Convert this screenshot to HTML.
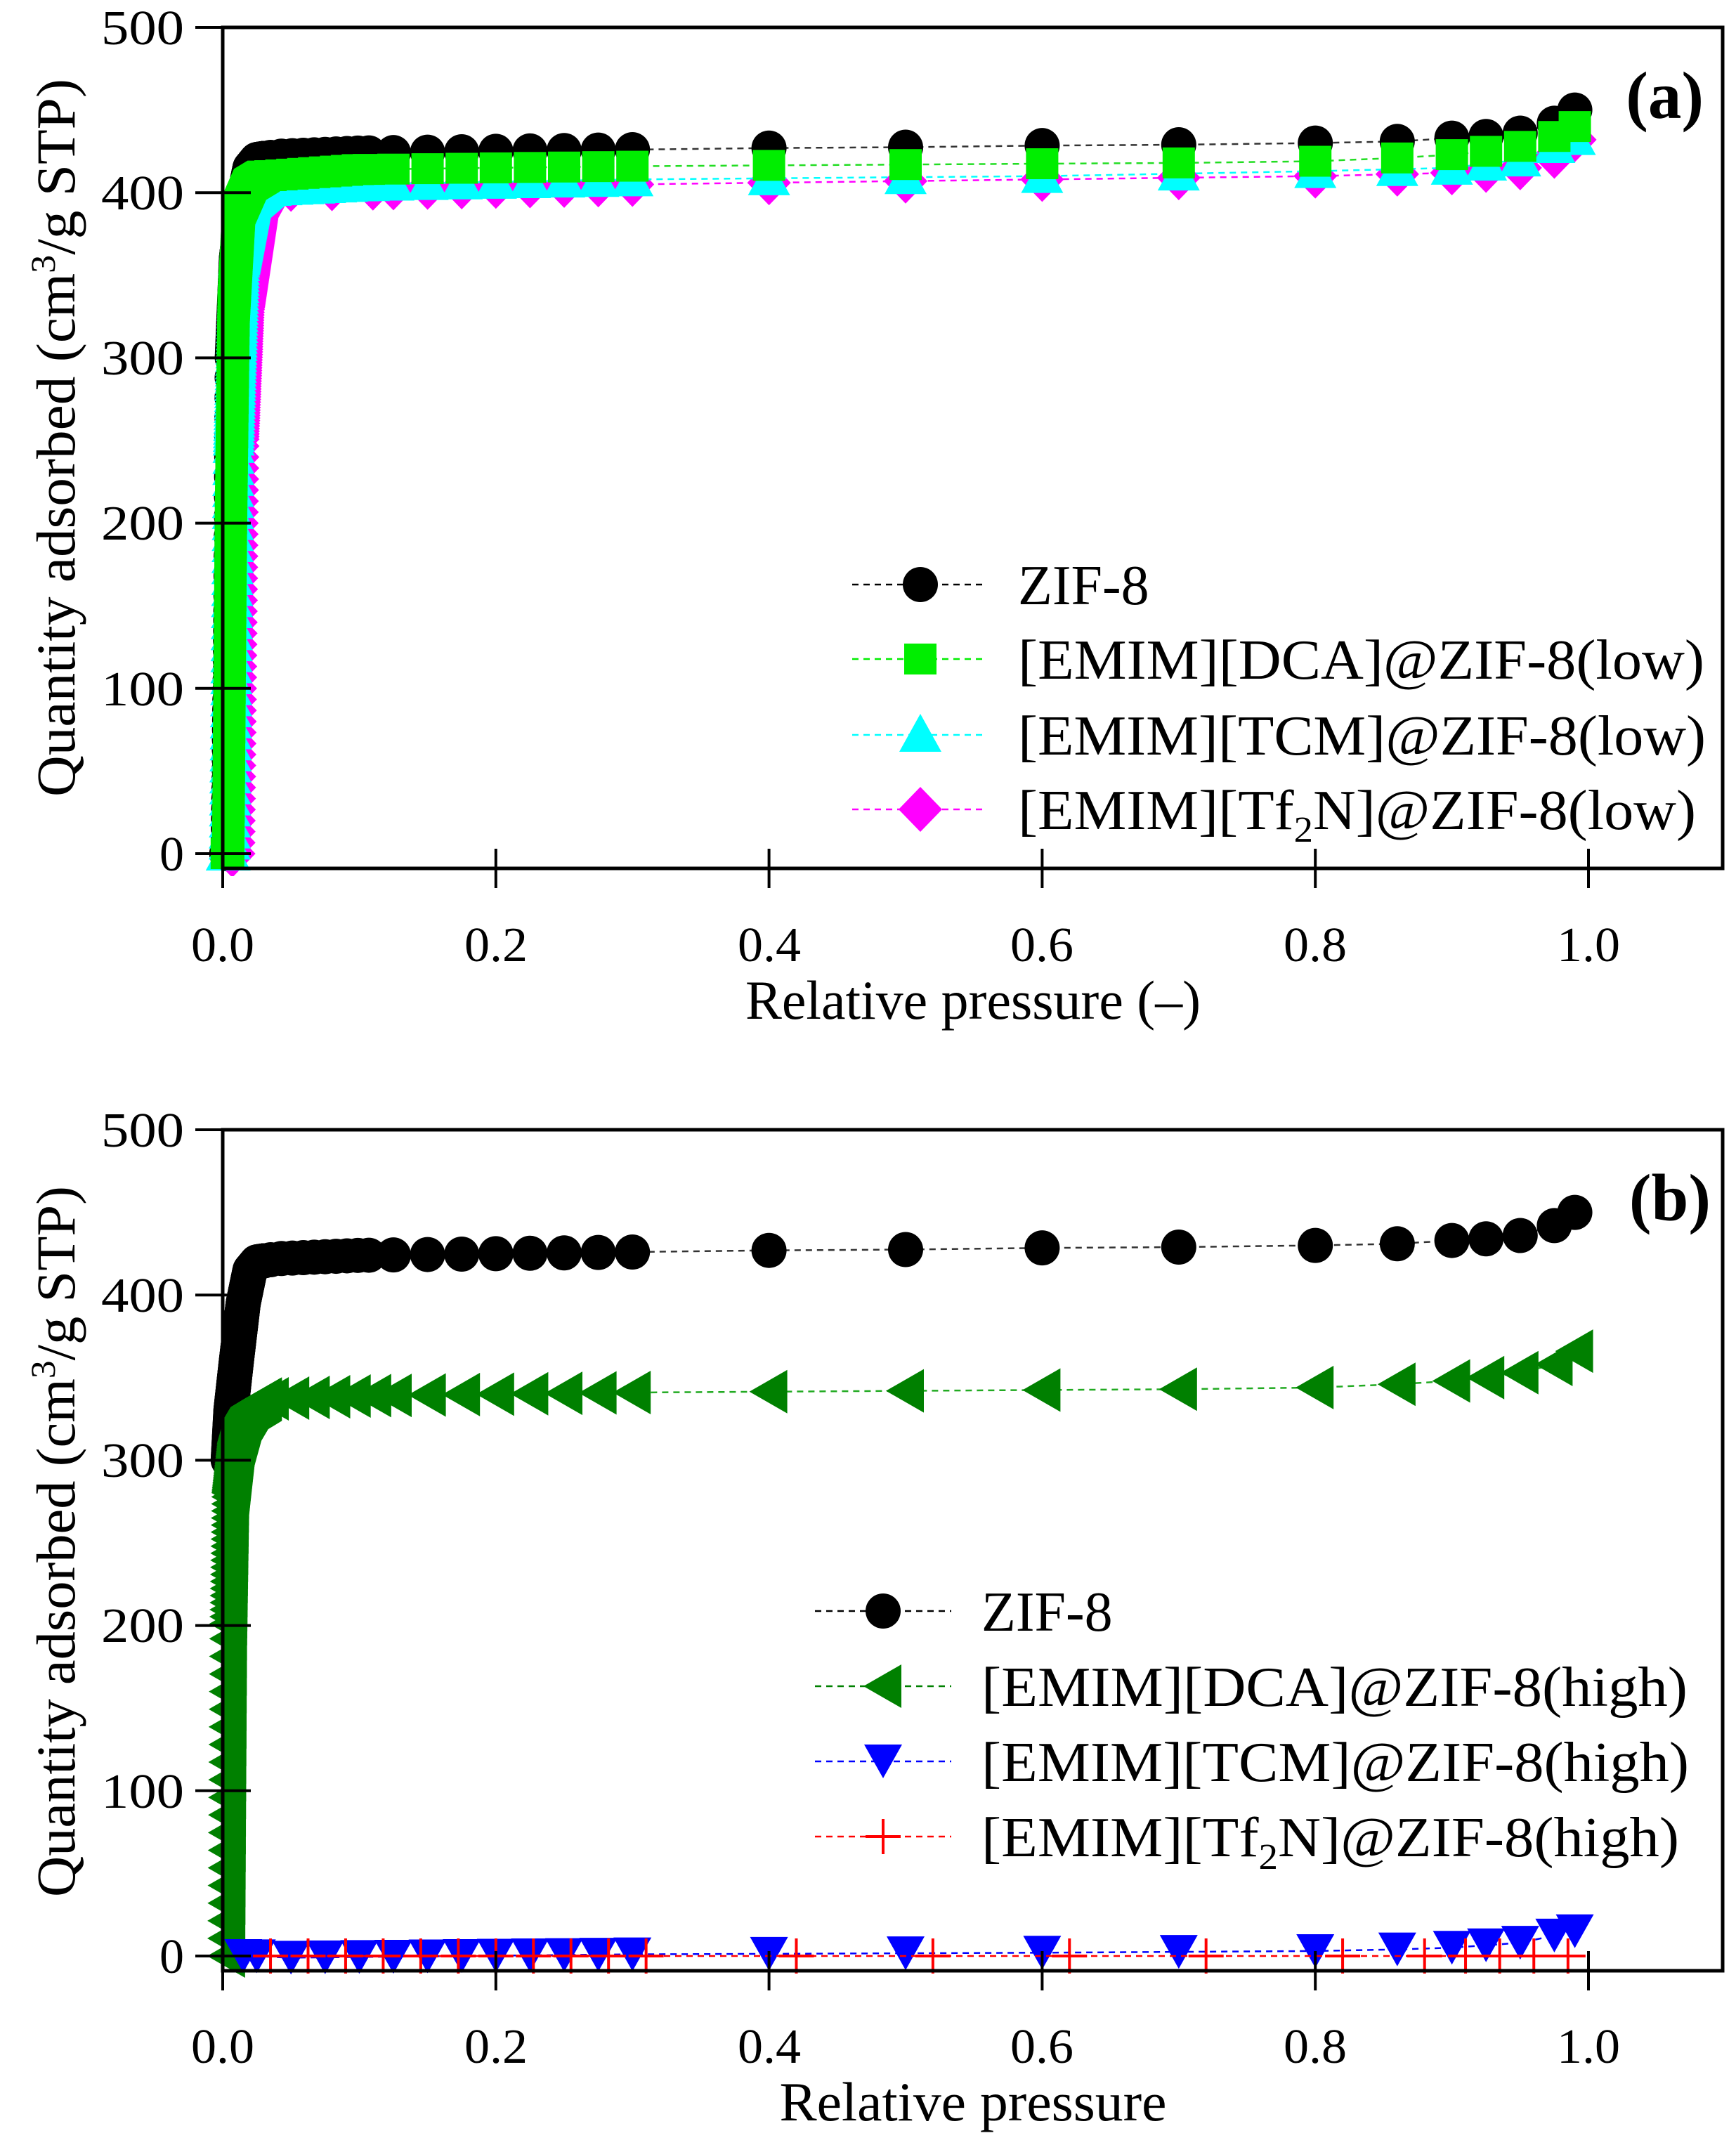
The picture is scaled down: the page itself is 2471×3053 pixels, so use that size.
<!DOCTYPE html>
<html><head><meta charset="utf-8">
<style>
html,body{margin:0;padding:0;background:#fff;}
svg{display:block;}
text{font-family:"Liberation Serif",serif;fill:#000;}
</style></head>
<body>
<svg id="s" xmlns="http://www.w3.org/2000/svg" width="2471" height="3053" viewBox="0 0 2471 3053">
<g id="plots"></g>
<rect x="317" y="39" width="2135" height="1197" fill="none" stroke="#000" stroke-width="5"/>
<rect x="317" y="1608" width="2135" height="1197" fill="none" stroke="#000" stroke-width="5"/>
<g id="ticks" stroke="#000" stroke-width="4"></g>

<g font-size="70" text-anchor="end" lengthAdjust="spacingAndGlyphs">
<text x="262" y="63" textLength="118" lengthAdjust="spacingAndGlyphs">500</text><text x="262" y="298" textLength="118" lengthAdjust="spacingAndGlyphs">400</text><text x="262" y="533" textLength="118" lengthAdjust="spacingAndGlyphs">300</text>
<text x="262" y="768" textLength="118" lengthAdjust="spacingAndGlyphs">200</text><text x="262" y="1004" textLength="118" lengthAdjust="spacingAndGlyphs">100</text><text x="262" y="1239">0</text>
</g>
<g font-size="70" text-anchor="middle">
<text x="317" y="1368" textLength="90" lengthAdjust="spacingAndGlyphs">0.0</text><text x="706" y="1368" textLength="90" lengthAdjust="spacingAndGlyphs">0.2</text><text x="1095" y="1368" textLength="90" lengthAdjust="spacingAndGlyphs">0.4</text>
<text x="1483" y="1368" textLength="90" lengthAdjust="spacingAndGlyphs">0.6</text><text x="1872" y="1368" textLength="90" lengthAdjust="spacingAndGlyphs">0.8</text><text x="2261" y="1368" textLength="90" lengthAdjust="spacingAndGlyphs">1.0</text>
</g>
<text x="1385" y="1450" font-size="78" text-anchor="middle" textLength="648" lengthAdjust="spacingAndGlyphs">Relative pressure (–)</text>
<text transform="translate(106,623) rotate(-90)" font-size="78" text-anchor="middle" textLength="1022" lengthAdjust="spacingAndGlyphs">Quantity adsorbed (cm<tspan dy="-28" font-size="50">3</tspan><tspan dy="28">/g STP)</tspan></text>
<text x="2425" y="168" font-size="95" font-weight="bold" text-anchor="end">(a)</text>

<g font-size="70" text-anchor="end">
<text x="262" y="1632" textLength="118" lengthAdjust="spacingAndGlyphs">500</text><text x="262" y="1867" textLength="118" lengthAdjust="spacingAndGlyphs">400</text><text x="262" y="2102" textLength="118" lengthAdjust="spacingAndGlyphs">300</text>
<text x="262" y="2337" textLength="118" lengthAdjust="spacingAndGlyphs">200</text><text x="262" y="2573" textLength="118" lengthAdjust="spacingAndGlyphs">100</text><text x="262" y="2808">0</text>
</g>
<g font-size="70" text-anchor="middle">
<text x="317" y="2936" textLength="90" lengthAdjust="spacingAndGlyphs">0.0</text><text x="706" y="2936" textLength="90" lengthAdjust="spacingAndGlyphs">0.2</text><text x="1095" y="2936" textLength="90" lengthAdjust="spacingAndGlyphs">0.4</text>
<text x="1483" y="2936" textLength="90" lengthAdjust="spacingAndGlyphs">0.6</text><text x="1872" y="2936" textLength="90" lengthAdjust="spacingAndGlyphs">0.8</text><text x="2261" y="2936" textLength="90" lengthAdjust="spacingAndGlyphs">1.0</text>
</g>
<text x="1385" y="3018" font-size="78" text-anchor="middle" textLength="551" lengthAdjust="spacingAndGlyphs">Relative pressure</text>
<text transform="translate(106,2194) rotate(-90)" font-size="78" text-anchor="middle" textLength="1012" lengthAdjust="spacingAndGlyphs">Quantity adsorbed (cm<tspan dy="-28" font-size="50">3</tspan><tspan dy="28">/g STP)</tspan></text>
<text x="2435" y="1737" font-size="95" font-weight="bold" text-anchor="end">(b)</text>

<g font-size="80">
<text x="1449" y="860">ZIF-8</text>
<text x="1449" y="966" textLength="977" lengthAdjust="spacingAndGlyphs">[EMIM][DCA]@ZIF-8(low)</text>
<text x="1449" y="1074" textLength="979" lengthAdjust="spacingAndGlyphs">[EMIM][TCM]@ZIF-8(low)</text>
<text x="1449" y="1180" textLength="965" lengthAdjust="spacingAndGlyphs">[EMIM][Tf<tspan dy="18" font-size="52">2</tspan><tspan dy="-18">N]@ZIF-8(low)</tspan></text>
</g>
<g font-size="80">
<text x="1397" y="2321">ZIF-8</text>
<text x="1397" y="2428" textLength="1005" lengthAdjust="spacingAndGlyphs">[EMIM][DCA]@ZIF-8(high)</text>
<text x="1397" y="2535" textLength="1007" lengthAdjust="spacingAndGlyphs">[EMIM][TCM]@ZIF-8(high)</text>
<text x="1397" y="2642" textLength="993" lengthAdjust="spacingAndGlyphs">[EMIM][Tf<tspan dy="18" font-size="52">2</tspan><tspan dy="-18">N]@ZIF-8(high)</tspan></text>
</g>
</svg>
<script>
(function(){
var NS="http://www.w3.org/2000/svg";
var plots=document.getElementById("plots"), ticks=document.getElementById("ticks");
function el(t,a,p){var e=document.createElementNS(NS,t);for(var k in a)e.setAttribute(k,a[k]);(p||plots).appendChild(e);return e;}
[39,1608].forEach(function(top){
  var y0=top+1176;
  for(var i=0;i<=5;i++){var y=y0-i*235.2;el("line",{x1:278,y1:y,x2:357,y2:y},ticks);}
  var b=top+1197;
  for(var j=0;j<=5;j++){var x=317+j*388.8;el("line",{x1:x,y1:b+28,x2:x,y2:b-28},ticks);}
});
function X(p){return 317+p*1944;}
function interp(t,x){if(x<=t[0][0])return t[0][1];for(var i=1;i<t.length;i++){if(x<=t[i][0]){var a=t[i-1],b=t[i];return a[1]+(b[1]-a[1])*(x-a[0])/(b[0]-a[0]);}}return t[t.length-1][1];}
var P=[0.125,0.15,0.175,0.2,0.225,0.25,0.275,0.3,0.4,0.5,0.6,0.7,0.8,0.86,0.9,0.925,0.95,0.975,0.99];
function xs(a,b,st){var r=[];for(var x=a;x<=b+1e-9;x+=st)r.push(+x.toFixed(6));return r;}
function mk(type,color,x,y,p){
  p=p||plots;
  if(type=="c")el("circle",{cx:x,cy:y,r:25,fill:color},p);
  else if(type=="s")el("rect",{x:x-23,y:y-22,width:46,height:44,fill:color},p);
  else if(type=="t")el("polygon",{points:(x)+","+(y-30)+" "+(x-30)+","+(y+24)+" "+(x+30)+","+(y+24),fill:color},p);
  else if(type=="d")el("polygon",{points:x+","+(y-32)+" "+(x+31)+","+y+" "+x+","+(y+32)+" "+(x-31)+","+y,fill:color},p);
  else if(type=="l")el("polygon",{points:(x-28)+","+y+" "+(x+26)+","+(y-31)+" "+(x+26)+","+(y+31),fill:color},p);
  else if(type=="v")el("polygon",{points:(x-27)+","+(y-24)+" "+(x+27)+","+(y-24)+" "+x+","+(y+24),fill:color},p);
  else if(type=="p"){el("line",{x1:x-25,y1:y,x2:x+25,y2:y,stroke:color,"stroke-width":4},p);el("line",{x1:x,y1:y-25,x2:x,y2:y+25,stroke:color,"stroke-width":4},p);}
}
function series(y0,tab,mx,type,color,lcolor,lineFrom){
  var pts=mx.map(function(x){return [X(x),y0-interp(tab,x)*2.352];});
  var lp=(lineFrom||[]).concat(pts);
  el("polyline",{points:lp.map(function(q){return q[0].toFixed(1)+","+q[1].toFixed(1)}).join(" "),fill:"none",stroke:lcolor||color,"stroke-width":2.5,"stroke-dasharray":"9,7"});
  pts.forEach(function(q){mk(type,color,q[0],q[1]);});
}
var dense=xs(0.003,0.03,0.00008);
var mid=xs(0.035,0.11,0.008);
var zif=[[0.004,0],[0.006,150],[0.007,300],[0.01,360],[0.015,395],[0.02,415],[0.025,420],[0.04,422],[0.1,424],[0.3,426],[0.4,427],[0.5,427.5],[0.6,428.5],[0.7,429],[0.8,430],[0.86,431],[0.9,433],[0.925,434],[0.95,436],[0.975,442],[0.99,450]];
var Ya=1215, Yb=2784;
series(Ya,zif,dense.concat(mid).concat(P),"c","#000","#333");
series(Ya,[[0.008,0],[0.011,250],[0.015,330],[0.025,385],[0.035,400],[0.05,402],[0.3,405],[0.5,407],[0.6,408],[0.8,410],[0.9,412],[0.95,415],[0.975,422],[0.99,432]],xs(0.006,0.035,0.00008).concat(xs(0.05,0.11,0.03)).concat(P),"d","#ff00ff");
series(Ya,[[0.005,0],[0.008,250],[0.012,360],[0.02,395],[0.03,402],[0.1,405],[0.3,408],[0.6,410],[0.8,413],[0.9,415],[0.95,420],[0.99,433]],dense.concat(mid).concat(P),"t","#00ffff");
series(Ya,[[0.004,0],[0.006,200],[0.008,330],[0.012,390],[0.02,405],[0.03,410],[0.1,414],[0.3,416],[0.5,417],[0.7,418],[0.8,419],[0.86,421],[0.9,423],[0.925,425],[0.95,428],[0.975,434],[0.99,440]],dense.concat(mid).concat(P),"s","#00ee00","#22dd22");
// Panel b
var zifb=[[0.004,300],[0.006,330],[0.01,360],[0.015,395],[0.02,415],[0.025,420],[0.04,422],[0.1,424],[0.3,426],[0.4,427],[0.5,427.5],[0.6,428.5],[0.7,429],[0.8,430],[0.86,431],[0.9,433],[0.925,434],[0.95,436],[0.975,442],[0.99,450]];
series(Yb,zifb,xs(0.004,0.03,0.00008).concat(mid).concat(P),"c","#000","#333",[[X(0.004),Yb]]);
el("line",{x1:X(0.004),y1:Yb,x2:X(0.004),y2:Yb-300*2.352,stroke:"#000","stroke-width":4});
series(Yb,[[0.003,0],[0.0045,200],[0.006,280],[0.01,310],[0.015,325],[0.02,332],[0.03,337],[0.1,339],[0.3,341],[0.5,342],[0.7,343],[0.8,344],[0.86,346],[0.9,348],[0.925,350],[0.95,353],[0.975,358],[0.99,366]],xs(0.003,0.03,0.00008).concat(xs(0.035,0.11,0.015)).concat(P),"l","#008000","#22aa22");
series(Yb,[[0.003,0],[0.02,0],[0.05,-1],[0.3,1],[0.6,2],[0.8,3],[0.86,4],[0.9,5],[0.95,8],[0.99,15]],[0.015,0.025,0.05,0.075,0.1,0.125].concat(P),"v","#0000ff");
series(Yb,[[0,0],[1,0]],xs(0.035,0.31,0.0275).concat([0.42,0.52,0.62,0.72,0.82,0.88,0.91,0.935,0.96,0.985]),"p","#ff0000");
function leg(y,type,color){el("line",{x1:y[1],y1:y[0],x2:y[2],y2:y[0],stroke:color,"stroke-width":2.5,"stroke-dasharray":"9,7"});mk(type,color,y[3],y[0]);}
leg([832,1213,1403,1310],"c","#000");leg([938,1213,1403,1310],"s","#00ee00");leg([1046,1213,1403,1310],"t","#00ffff");leg([1152,1213,1403,1310],"d","#ff00ff");
leg([2293,1160,1354,1257],"c","#000");leg([2400,1160,1354,1257],"l","#008000");leg([2507,1160,1354,1257],"v","#0000ff");leg([2614,1160,1354,1257],"p","#ff0000");
})();
</script>
</body></html>
